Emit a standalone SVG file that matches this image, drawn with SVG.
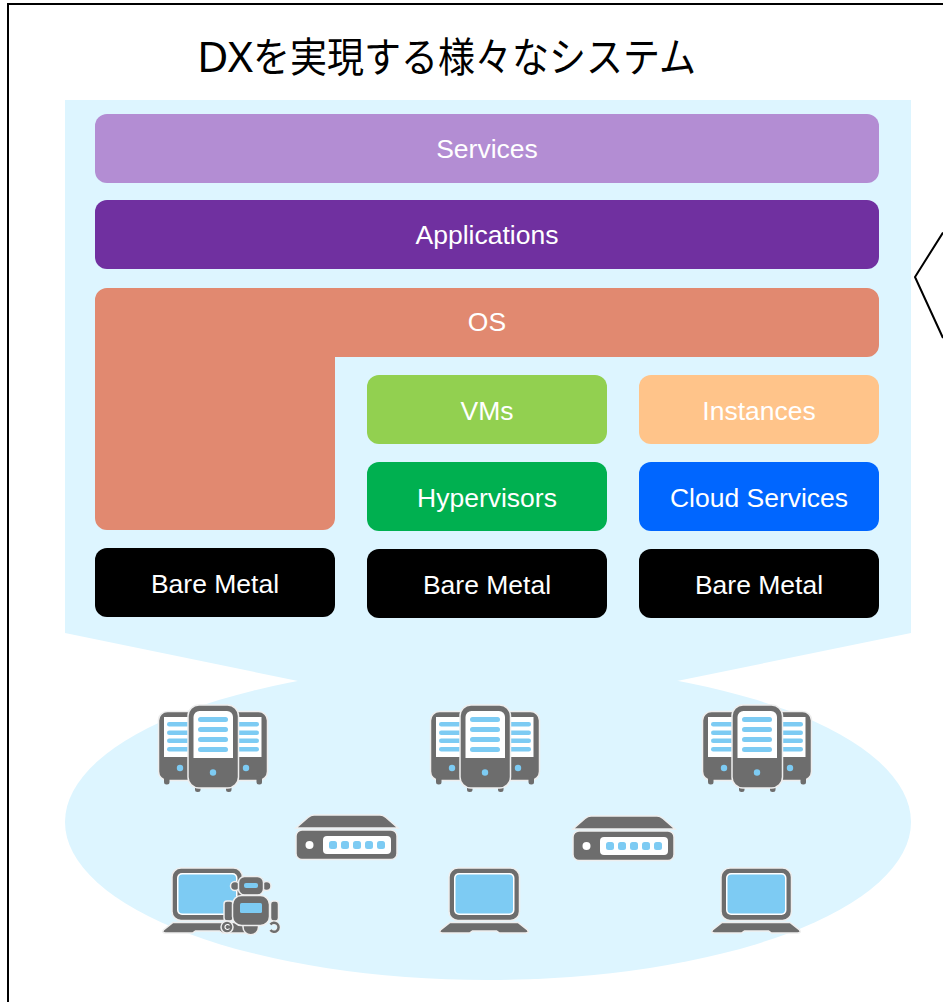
<svg xmlns="http://www.w3.org/2000/svg" width="943" height="1002" viewBox="0 0 943 1002">
<style>
.lbl{font-family:"Liberation Sans",Arial,sans-serif;font-size:26.500px;fill:#fff;text-anchor:middle}
.g{fill:#6d6d6d;stroke:#eeeeee;stroke-width:1.500}
.gn{fill:#6d6d6d}
.b{fill:#7dcbf3}
.w{fill:#fff}
</style>
<defs>
<g id="server">
<rect class="g" x="158.500" y="711.500" width="46" height="69" rx="9"/>
<rect class="gn" x="164" y="776" width="5.500" height="8.500" rx="2.500"/>
<rect class="w" x="164" y="717" width="30" height="40"/>
<rect class="b" x="167" y="722" width="30" height="4.500" rx="2.200"/>
<rect class="b" x="167" y="730.500" width="30" height="4.500" rx="2.200"/>
<rect class="b" x="167" y="738.500" width="30" height="4.500" rx="2.200"/>
<rect class="b" x="167" y="747" width="30" height="4.500" rx="2.200"/>
<circle class="b" cx="180" cy="768" r="3.200"/>
<rect class="g" x="221.500" y="711.500" width="46" height="69" rx="9"/>
<rect class="gn" x="256.500" y="776" width="5.500" height="8.500" rx="2.500"/>
<rect class="w" x="231" y="717" width="30.500" height="40"/>
<rect class="b" x="229" y="722" width="30" height="4.500" rx="2.200"/>
<rect class="b" x="229" y="730.500" width="30" height="4.500" rx="2.200"/>
<rect class="b" x="229" y="738.500" width="30" height="4.500" rx="2.200"/>
<rect class="b" x="229" y="747" width="30" height="4.500" rx="2.200"/>
<circle class="b" cx="246" cy="768" r="3.200"/>
<rect class="gn" x="195" y="782" width="5.500" height="10" rx="2.500"/>
<rect class="gn" x="226" y="782" width="5.500" height="10" rx="2.500"/>
<rect class="g" x="188" y="705" width="50.500" height="83" rx="11"/>
<path class="w" d="M193.500 717a6 6 0 0 1 6-6h27.500a6 6 0 0 1 6 6v41h-39.500z"/>
<rect class="b" x="198" y="717" width="30" height="5" rx="2.500"/>
<rect class="b" x="198" y="727" width="30" height="5" rx="2.500"/>
<rect class="b" x="198" y="737" width="30" height="5" rx="2.500"/>
<rect class="b" x="198" y="747" width="30" height="5" rx="2.500"/>
<circle class="b" cx="213" cy="772.500" r="3.200"/>
</g>
<g id="router">
<path class="g" d="M296 828l12-10.500q3-2.500 6-2.500h66q3 0 6 2.500l12 10.500z"/>
<rect class="g" x="296" y="830" width="101" height="29.500" rx="6"/>
<circle class="w" cx="309.500" cy="845" r="4"/>
<rect class="w" x="323" y="836" width="68" height="18" rx="4"/>
<rect class="b" x="329" y="841" width="8" height="8" rx="2.500"/>
<rect class="b" x="341" y="841" width="8" height="8" rx="2.500"/>
<rect class="b" x="353" y="841" width="8" height="8" rx="2.500"/>
<rect class="b" x="365" y="841" width="8" height="8" rx="2.500"/>
<rect class="b" x="377" y="841" width="8" height="8" rx="2.500"/>
</g>
<g id="laptop">
<rect class="g" x="172" y="868" width="70.500" height="52.500" rx="9"/>
<rect class="w" x="177" y="873" width="60.500" height="42" rx="5"/>
<rect class="b" x="178.500" y="874.500" width="57.500" height="39" rx="4"/>
<path class="g" d="M173 922.500h68l9.500 7.500q2 3-2 3h-26l-3-2h-24l-3 2h-27q-4 0-2-3z"/>
</g>
</defs>
<rect x="8" y="4" width="960" height="1020" fill="#fff" stroke="#000" stroke-width="2"/>
<text id="title" x="197" y="71.500" font-family="'Noto Sans','Liberation Sans','Noto Sans CJK JP',sans-serif" font-size="41" fill="#000"><tspan textLength="56" lengthAdjust="spacingAndGlyphs">DX</tspan><tspan font-family="'Noto Sans CJK JP',sans-serif" textLength="443" lengthAdjust="spacingAndGlyphs">を実現する様々なシステム</tspan></text>
<g id="connectors">
<polyline points="943,232.500 915,277 943,338" fill="none" stroke="#000" stroke-width="2"/>
</g>
<g id="backdrop" fill="#ddf5ff">
<ellipse cx="488" cy="822" rx="423" ry="158"/>
<path d="M65 100H911V633L677 681H298L65 633Z"/>
</g>
<g id="services"><rect x="95" y="114" width="784" height="69" rx="12" fill="#b38dd3"/><text class="lbl" x="487" y="158">Services</text></g>
<g id="applications"><rect x="95" y="200" width="784" height="69" rx="12" fill="#7030a0"/><text class="lbl" x="487" y="244">Applications</text></g>
<g id="os"><path d="M107 288H867a12 12 0 0 1 12 12V345a12 12 0 0 1-12 12H335V518a12 12 0 0 1-12 12H107a12 12 0 0 1-12-12V300a12 12 0 0 1 12-12Z" fill="#e18970"/><text class="lbl" x="487" y="331">OS</text></g>
<g id="vms"><rect x="367" y="375" width="240" height="69" rx="12" fill="#92d050"/><text class="lbl" x="487" y="420">VMs</text></g>
<g id="instances"><rect x="639" y="375" width="240" height="69" rx="12" fill="#ffc48a"/><text class="lbl" x="759" y="420">Instances</text></g>
<g id="hypervisors"><rect x="367" y="462" width="240" height="69" rx="12" fill="#00b050"/><text class="lbl" x="487" y="507">Hypervisors</text></g>
<g id="cloud"><rect x="639" y="462" width="240" height="69" rx="12" fill="#0066ff"/><text class="lbl" x="759" y="507">Cloud Services</text></g>
<g id="metal1"><rect x="95" y="548" width="240" height="69" rx="12" fill="#000"/><text class="lbl" x="215" y="593">Bare Metal</text></g>
<g id="metal2"><rect x="367" y="549" width="240" height="69" rx="12" fill="#000"/><text class="lbl" x="487" y="594">Bare Metal</text></g>
<g id="metal3"><rect x="639" y="549" width="240" height="69" rx="12" fill="#000"/><text class="lbl" x="759" y="594">Bare Metal</text></g>
<g id="server1"><use href="#server"/></g>
<g id="server2"><use href="#server" x="272"/></g>
<g id="server3"><use href="#server" x="544"/></g>
<g id="router1"><use href="#router"/></g>
<g id="router2"><use href="#router" x="277" y="1"/></g>
<g id="laptop1"><use href="#laptop"/></g>
<g id="laptop2"><use href="#laptop" x="277"/></g>
<g id="laptop3"><use href="#laptop" x="549"/></g>
<g id="robot">
<circle class="g" cx="235" cy="886" r="4.500"/>
<circle class="g" cx="266.500" cy="886" r="4.500"/>
<rect class="g" x="238.500" y="876.500" width="25" height="18.500" rx="6"/>
<rect class="b" x="244" y="883" width="14" height="5" rx="2"/>
<rect class="g" x="224" y="901" width="9" height="20" rx="3"/>
<rect class="g" x="270.500" y="901" width="8" height="20" rx="3"/>
<path class="g" d="M243 924h15.500v3a7.700 7.700 0 0 1-15.500 0z"/>
<rect class="g" x="232.500" y="895.500" width="37" height="30" rx="9"/>
<rect class="b" x="240" y="903" width="22" height="10" rx="1.500"/>
<circle class="g" cx="227" cy="927" r="6"/>
<path d="M229.500 925.500a2.500 2.500 0 1 0 0 3" fill="none" stroke="#fff" stroke-width="1.200"/>
<path d="M270.500 924.500a4.500 4.500 0 1 1 0 5.500" fill="none" stroke="#eeeeee" stroke-width="4"/>
<path d="M270.500 924.500a4.500 4.500 0 1 1 0 5.500" fill="none" stroke="#6d6d6d" stroke-width="2.500"/>
</g>
</svg>
